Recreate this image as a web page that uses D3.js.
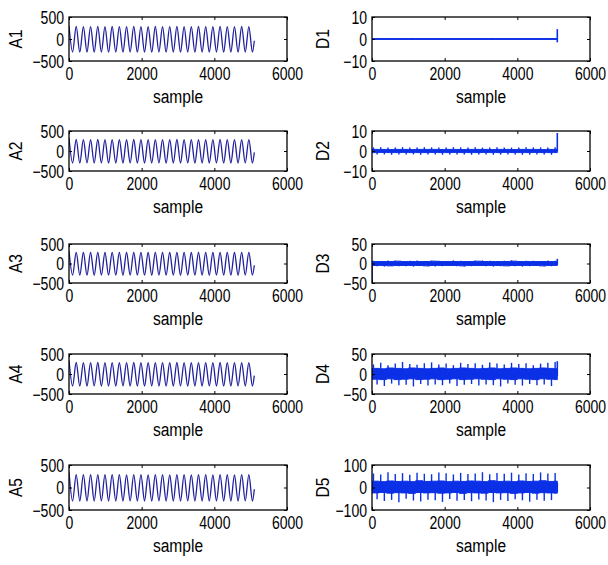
<!DOCTYPE html>
<html><head><meta charset="utf-8">
<script src="https://cdn.jsdelivr.net/npm/d3@7"></script>
<style>body{margin:0;background:#fff}svg{display:block}</style>
</head><body><svg id="c" width="608" height="565"></svg>
<script>
// ---------------- data ----------------
const xTicks = [0, 2000, 4000, 6000];
const signalEnd = 5100;          // last sample
const halfPeriod = 99;           // samples between successive extremes of the approximation signals
const binSize = 200;             // samples per detail bin

const approxNames = ["A1", "A2", "A3", "A4", "A5"];
const approxTicks = [-500, 0, 500];
// successive extremes (peak, trough, ...)
const A1 = [300,-295,285,-300,280,-298,282,-300,285,-296,
            280,-300,284,-298,282,-300,280,-297,285,-300,
            282,-298,280,-300,284,-296,282,-300,280,-298,
            285,-300,282,-297,280,-300,284,-298,282,-300,
            280,-296,285,-300,282,-298,280,-300,284,-297,
            282,-300];
const A2 = [330,-300,288,-302,284,-298,286,-300,288,-298,
            284,-302,286,-300,284,-300,282,-298,288,-302,
            284,-300,282,-300,286,-298,284,-302,282,-300,
            288,-300,284,-298,282,-302,286,-300,284,-300,
            282,-298,288,-302,284,-300,282,-300,286,-298,
            284,-302];
const A3 = [320,-298,286,-300,282,-300,284,-302,286,-298,
            282,-300,286,-300,284,-302,282,-298,286,-300,
            284,-300,282,-302,286,-298,284,-300,282,-300,
            286,-302,284,-298,282,-300,286,-300,284,-302,
            282,-298,286,-300,284,-300,282,-302,286,-298,
            284,-300];
const A4 = [340,-300,288,-300,284,-302,286,-298,288,-300,
            284,-300,286,-302,284,-298,282,-300,288,-300,
            284,-302,282,-298,286,-300,284,-300,282,-302,
            288,-298,284,-300,282,-300,286,-302,284,-298,
            282,-300,288,-300,284,-302,282,-298,286,-300,
            284,-300];
const A5 = [350,-302,288,-300,284,-300,286,-302,288,-298,
            284,-300,286,-300,284,-302,282,-298,288,-300,
            284,-300,282,-302,286,-298,284,-300,282,-300,
            288,-302,284,-298,282,-300,286,-300,284,-302,
            282,-298,288,-300,284,-300,282,-302,286,-298,
            284,-300];
const approxEnd = [-40, -35, -45, -40, -40];   // value at the last sample

const detailNames = ["D1", "D2", "D3", "D4", "D5"];
const detailTicks = [[-10,0,10], [-10,0,10], [-50,0,50], [-50,0,50], [-100,0,100]];
// dense band envelope per 200-sample bin
const D1top = [0.15,0.15,0.15,0.15,0.15,0.15,0.15,0.15,0.15,0.15,0.15,0.15,0.15,0.15,0.15,0.15,0.15,0.15,0.15,0.15,0.15,0.15,0.15,0.15,0.15,0.15];
const D1bot = [-0.15,-0.15,-0.15,-0.15,-0.15,-0.15,-0.15,-0.15,-0.15,-0.15,-0.15,-0.15,-0.15,-0.15,-0.15,-0.15,-0.15,-0.15,-0.15,-0.15,-0.15,-0.15,-0.15,-0.15,-0.15,-0.15];
const D2top = [0.8,0.8,0.7,0.8,0.8,0.7,0.8,0.8,0.8,0.7,0.8,0.8,0.7,0.8,0.8,0.8,0.7,0.8,0.8,0.7,0.8,0.8,0.8,0.7,0.8,0.8];
const D2bot = [-0.8,-0.7,-0.8,-0.8,-0.7,-0.8,-0.8,-0.8,-0.7,-0.8,-0.8,-0.7,-0.8,-0.8,-0.8,-0.7,-0.8,-0.8,-0.7,-0.8,-0.8,-0.8,-0.7,-0.8,-0.8,-0.8];
const D3top = [5,5,5,6,5,5,5,5,6,5,5,5,5,5,6,5,5,5,5,6,5,5,5,5,5,5];
const D3bot = [-5,-5,-6,-5,-5,-5,-5,-6,-5,-5,-5,-5,-6,-5,-5,-5,-5,-5,-6,-5,-5,-5,-5,-6,-5,-5];
const D4top = [14,13,15,14,13,15,14,13,14,15,13,14,15,14,13,14,15,13,14,15,14,13,14,15,14,13];
const D4bot = [-13,-14,-12,-14,-13,-12,-14,-13,-12,-14,-13,-12,-14,-13,-12,-13,-14,-12,-13,-14,-12,-13,-14,-12,-13,-14];
const D5top = [28,26,29,27,28,26,30,27,28,29,26,28,27,29,28,26,30,27,28,26,29,27,28,30,27,28];
const D5bot = [-24,-22,-25,-23,-24,-26,-22,-24,-23,-25,-24,-22,-26,-23,-24,-25,-22,-24,-23,-26,-24,-22,-25,-23,-24,-25];
// spikes per 200-sample bin
const D1up = [0,0,0,0,0,0,0,0,0,0,0,0,0,0,0,0,0,0,0,0,0,0,0,0,0,0];
const D1dn = [0,0,0,0,0,0,0,0,0,0,0,0,0,0,0,0,0,0,0,0,0,0,0,0,0,0];
const D2up = [1.8,1.9,1.7,1.8,1.9,1.8,1.7,1.9,1.8,1.8,1.7,1.9,1.8,1.8,1.9,1.7,1.8,1.9,1.8,1.7,1.8,1.9,1.8,1.8,1.7,1.9];
const D2dn = [-1.8,-1.7,-1.9,-1.8,-1.8,-1.7,-1.9,-1.8,-1.8,-1.9,-1.7,-1.8,-1.8,-1.9,-1.7,-1.8,-1.9,-1.8,-1.7,-1.8,-1.9,-1.8,-1.7,-1.8,-1.9,-1.8];
const D3up = [7,6,8,7,6,7,8,6,7,7,6,8,7,6,7,8,7,6,7,8,6,7,7,6,8,7];
const D3dn = [-7,-8,-6,-7,-7,-8,-6,-7,-8,-7,-6,-7,-8,-7,-6,-7,-8,-7,-6,-7,-8,-7,-6,-7,-7,-8];
const D4up = [24,28,22,26,30,25,23,27,29,24,26,22,28,25,27,23,29,26,24,28,25,27,22,26,28,30];
const D4dn = [-26,-30,-24,-28,-27,-31,-25,-29,-26,-28,-24,-30,-27,-25,-29,-26,-28,-31,-24,-27,-29,-25,-28,-26,-30,-27];
const D5up = [62,58,68,60,64,57,66,61,59,67,63,58,65,60,62,68,59,64,61,66,58,63,60,67,62,65];
const D5dn = [-52,-60,-55,-66,-50,-58,-62,-54,-57,-64,-51,-59,-56,-61,-53,-58,-65,-55,-60,-52,-57,-63,-54,-59,-56,-50];
// boundary spikes [low, high] at the first and last sample
const detailStart = [[0,0], [0,0], [-50,0], [0,0], [0,0]];
const detailEnd = [[-1.5,4.5], [0,9], [-3,12], [-5,32], [-20,20]];

// ---------------- layout ----------------
const svg = d3.select("#c");
svg.append("rect").attr("width",608).attr("height",565).attr("fill","#fff");
const colX = [[69,287],[372,590]];
const rowY = [[17,61],[131,171],[244,283],[354,394],[465,510]];
const FONT = "'Liberation Sans',Arial,sans-serif";
const NARROW = 0.78;   // horizontal condensing to mimic the narrow face of the original
const approxColor = "#20209c";
const detailColor = "#0b30e6";

function panel(col, row, name, yTicks, drawFn) {
  const [x0,x1] = colX[col], [y0,y1] = rowY[row];
  const x = d3.scaleLinear().domain([0,6000]).range([x0,x1]);
  const y = d3.scaleLinear().domain([yTicks[0], yTicks[yTicks.length-1]]).range([y1,y0]);
  const g = svg.append("g");
  const cid = "clip"+col+row;
  g.append("clipPath").attr("id",cid).append("rect")
    .attr("x",x0).attr("y",y0).attr("width",x1-x0).attr("height",y1-y0);
  const plot = g.append("g").attr("clip-path","url(#"+cid+")");
  drawFn(plot, x, y);
  g.append("rect").attr("x",x0).attr("y",y0).attr("width",x1-x0).attr("height",y1-y0)
    .attr("fill","none").attr("stroke","#000").attr("stroke-width",1.3);
  const fmt = d3.format("d");
  const xb = g.append("g").attr("transform",`translate(0,${y1})`)
    .call(d3.axisBottom(x).tickValues(xTicks).tickFormat(fmt).tickSizeInner(-3).tickSizeOuter(0).tickPadding(6));
  const xt = g.append("g").attr("transform",`translate(0,${y0})`)
    .call(d3.axisTop(x).tickValues(xTicks).tickSizeInner(-3).tickSizeOuter(0).tickFormat(""));
  const yl = g.append("g").attr("transform",`translate(${x0},0)`)
    .call(d3.axisLeft(y).tickValues(yTicks).tickFormat(fmt).tickSizeInner(-3).tickSizeOuter(0).tickPadding(6));
  const yr = g.append("g").attr("transform",`translate(${x1},0)`)
    .call(d3.axisRight(y).tickValues(yTicks).tickSizeInner(-3).tickSizeOuter(0).tickFormat(""));
  [xb,xt,yl,yr].forEach(a => {
    a.select(".domain").remove();
    a.selectAll("line").attr("stroke","#000");
    a.selectAll("text").attr("font-family",FONT).attr("font-size",18).attr("fill","#000");
  });
  xb.selectAll("text").attr("transform",`scale(${NARROW},1)`);
  yl.selectAll("text").attr("dy","0.36em").attr("x", -5/NARROW).attr("transform",`scale(${NARROW},1)`);
  g.append("text").attr("transform",`translate(${(x0+x1)/2},${y1+42}) scale(0.82,1)`).attr("text-anchor","middle")
    .attr("font-family",FONT).attr("font-size",19).text("sample");
  const lx = col === 0 ? 15 : 322;
  g.append("text").attr("transform",`translate(${lx},${(y0+y1)/2}) rotate(-90) scale(0.82,1)`)
    .attr("text-anchor","middle").attr("dy","0.35em")
    .attr("font-family",FONT).attr("font-size",19).text(name);
}

const approxData = [A1, A2, A3, A4, A5];
approxData.forEach((vals, i) => {
  panel(0, i, approxNames[i], approxTicks, (p, x, y) => {
    const pts = vals.map((v, k) => [k*halfPeriod, v]);
    pts.push([signalEnd, approxEnd[i]]);
    p.append("path").datum(pts)
      .attr("d", d3.line().x(d => x(d[0])).y(d => y(d[1])).curve(d3.curveMonotoneX))
      .attr("fill","none").attr("stroke",approxColor).attr("stroke-width",1.3);
  });
});

const detailTop = [D1top, D2top, D3top, D4top, D5top];
const detailBot = [D1bot, D2bot, D3bot, D4bot, D5bot];
const detailUp = [D1up, D2up, D3up, D4up, D5up];
const detailDn = [D1dn, D2dn, D3dn, D4dn, D5dn];
detailNames.forEach((name, i) => {
  panel(1, i, name, detailTicks[i], (p, x, y) => {
    const bins = detailTop[i].map((t, k) => ({s: k*binSize, e: Math.min((k+1)*binSize, signalEnd), t, b: detailBot[i][k]}));
    const pts = [];
    bins.forEach(d => { pts.push({x:d.s, t:d.t, b:d.b}); pts.push({x:d.e, t:d.t, b:d.b}); });
    p.append("path").datum(pts)
      .attr("d", d3.area().x(d => x(d.x)).y0(d => y(d.b)).y1(d => y(d.t)))
      .attr("fill",detailColor).attr("stroke",detailColor).attr("stroke-width",1);
    p.append("line").attr("x1",x(0)).attr("x2",x(signalEnd)).attr("y1",y(0)).attr("y2",y(0))
      .attr("stroke",detailColor).attr("stroke-width",1.4);
    const spikes = [];
    bins.forEach((d, k) => {
      if (detailUp[i][k]) spikes.push({s: d.s + 40, v: detailUp[i][k]});
      if (detailDn[i][k] && d.s + 140 < signalEnd) spikes.push({s: d.s + 140, v: detailDn[i][k]});
    });
    p.selectAll("line.sp").data(spikes).join("line").attr("class","sp")
      .attr("x1",d => x(d.s)).attr("x2",d => x(d.s)).attr("y1",y(0)).attr("y2",d => y(d.v))
      .attr("stroke",detailColor).attr("stroke-width",1.4);
    [[0, detailStart[i]], [signalEnd, detailEnd[i]]].forEach(([s, r]) => {
      if (r[0] === r[1]) return;
      p.append("line").attr("x1",x(s)).attr("x2",x(s)).attr("y1",y(r[0])).attr("y2",y(r[1]))
        .attr("stroke",detailColor).attr("stroke-width",1.6);
    });
  });
});
</script></body></html>
